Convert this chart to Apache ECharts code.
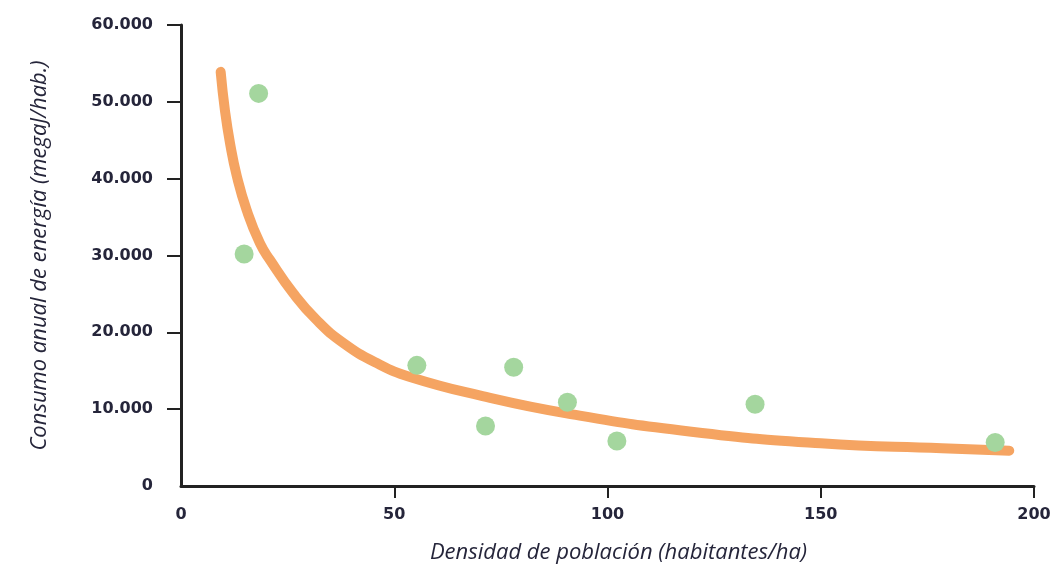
<!DOCTYPE html>
<html>
<head>
<meta charset="utf-8">
<script src="https://cdn.jsdelivr.net/npm/echarts@6/dist/echarts.min.js"></script>
<style>
html,body{margin:0;padding:0;background:#fff;}
#chart{width:1055px;height:565px;}
</style>
</head>
<body>
<div id="chart"></div>
<script>
// Observed cities: population density (hab/ha) and annual energy use (megaJ/hab)
var densidad = [18.2, 14.8, 55.3, 71.4, 78.0, 90.6, 102.2, 134.6, 190.9];
var consumo = [51100, 30200, 15700, 7800, 15450, 10900, 5850, 10650, 5650];

// Trend curve
var curvaX = [9.3, 10.3, 11.5, 13.1, 15.4, 18.5, 20.9, 26.3, 31.8, 38.1, 45.9, 53.7, 70, 90.4, 119.7, 150, 178.4, 194.2];
var curvaY = [53900, 48900, 44600, 40300, 35900, 31600, 29400, 25100, 21600, 18600, 16000, 14200, 11800, 9460, 7070, 5550, 4900, 4600];

var yTicks = [0, 10000, 20000, 30000, 40000, 50000, 60000];
var xTicks = [0, 50, 100, 150, 200];

var puntos = densidad.map(function (d, i) { return [d, consumo[i]]; });
var curva = curvaX.map(function (d, i) { return [d, curvaY[i]]; });

var labelColor = '#25253a';
var titleFont = '"Open Sans", "Noto Sans", sans-serif';
var tickFont = '"DejaVu Sans", sans-serif';

var chart = echarts.init(document.getElementById('chart'), null, {renderer: 'canvas'});
chart.setOption({
  animation: false,
  backgroundColor: '#ffffff',
  grid: {left: 181, right: 21, top: 25, bottom: 79, containLabel: false, outerBoundsMode: 'none'},
  xAxis: {
    type: 'value', min: 0, max: 200, interval: 50,
    name: 'Densidad de población (habitantes/ha)',
    nameLocation: 'middle', nameGap: 56,
    nameTextStyle: {fontFamily: titleFont, fontStyle: 'italic', fontSize: 22, color: labelColor, padding: [0, 0, 0, 22]},
    axisLine: {show: true, lineStyle: {color: '#222', width: 3}},
    axisTick: {show: true, length: 12, inside: false, lineStyle: {color: '#222', width: 2}, customValues: [50, 100, 150, 200]},
    axisLabel: {margin: 21, fontFamily: tickFont, fontSize: 16, fontWeight: 'bold', color: labelColor, customValues: xTicks,
      formatter: function (v) { return String(v); }},
    splitLine: {show: false}
  },
  yAxis: {
    type: 'value', min: 0, max: 60000, interval: 10000,
    name: 'Consumo anual de energía (megaJ/hab.)',
    nameLocation: 'middle', nameGap: 130,
    nameTextStyle: {fontFamily: titleFont, fontStyle: 'italic', fontSize: 22, color: labelColor},
    axisLine: {show: true, lineStyle: {color: '#222', width: 3}},
    axisTick: {show: true, length: 14, lineStyle: {color: '#222', width: 2}, customValues: [10000, 20000, 30000, 40000, 50000, 60000]},
    axisLabel: {margin: 28, fontFamily: tickFont, fontSize: 16, fontWeight: 'bold', color: labelColor, customValues: yTicks,
      formatter: function (v) {
        if (v === 0) return '0';
        var s = String(v);
        return s.slice(0, s.length - 3) + '.' + s.slice(s.length - 3);
      }},
    splitLine: {show: false}
  },
  series: [
    {
      type: 'line', data: curva, smooth: 0.5,
      showSymbol: false, symbol: 'none',
      lineStyle: {color: '#F5A462', width: 10, cap: 'round', join: 'round'},
      z: 2
    },
    {
      type: 'scatter', data: puntos, symbolSize: 19,
      itemStyle: {color: '#A4D69E', opacity: 1},
      z: 3
    }
  ]
});
</script>
</body>
</html>
